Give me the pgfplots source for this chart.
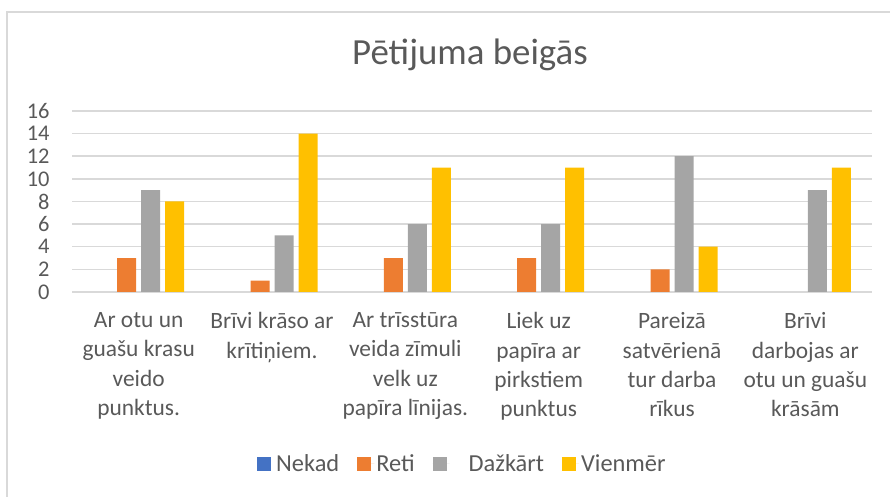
\documentclass[border=0pt]{standalone}
\usepackage{pgfplots}
\pgfplotsset{compat=1.18}
\usepackage{fontspec}
\setmainfont{Carlito}
\definecolor{txt}{HTML}{595959}
\definecolor{gridc}{HTML}{D9D9D9}
\definecolor{cA}{HTML}{4472C4}
\definecolor{cB}{HTML}{ED7D31}
\definecolor{cC}{HTML}{A5A5A5}
\definecolor{cD}{HTML}{FFC000}
\pgfplotsset{sq/.style={legend image code/.code={\path (0bp,0bp) -- (17bp,0bp); \fill[#1] (0bp,-7bp) rectangle (14bp,7bp);}}}
\begin{document}
\begin{tikzpicture}[x=1bp,y=1bp]
\path[use as bounding box] (0,0) rectangle (890,497);
\draw[gridc, line width=1.5bp] (7,0) -- (7,485) -- (890,485);
\node[text=txt, font=\fontsize{37}{44}\selectfont] at (470,442) {Pētijuma beigās};
\begin{axis}[
  at={(72bp,205bp)}, anchor=south west,
  scale only axis, width=800bp, height=181bp,
  xmin=-0.5, xmax=5.5, ymin=0, ymax=16,
  ytick={0,2,...,16}, xtick={0,...,5},
  xticklabels={{Ar otu un\\guašu krasu\\veido\\punktus.},{Brīvi krāso ar\\krītiņiem.},{Ar trīsstūra\\veida zīmuli\\velk uz\\papīra līnijas.},{Liek uz\\papīra ar\\pirkstiem\\punktus},{Pareizā\\satvērienā\\tur darba\\rīkus},{Brīvi\\darbojas ar\\otu un guašu\\krāsām}},
  axis line style={draw=none},
  major tick length=0,
  ymajorgrids, grid style={gridc, line width=1.5bp},
  /pgf/number format/assume math mode=true,
  yticklabel style={font=\fontsize{22.5}{26}\selectfont, text=txt, xshift=-19bp},
  xticklabel style={font=\fontsize{23.5}{29.5}\selectfont, text=txt, align=center, anchor=north, yshift=-17bp},
  ybar=5bp, bar width=19bp,
  unbounded coords=discard,
  legend style={at={(0.488,-0.95)}, anchor=center, draw=none, fill=none, legend columns=4,
    font=\fontsize{24.5}{28}\selectfont, text=txt,
    /tikz/every even column/.append style={column sep=16bp}},
  clip=false,
]
\addplot[fill=none, draw=none, sq=cA] coordinates {(0,0) (1,0) (2,0) (3,0) (4,0) (5,0)};
\addplot[fill=cB, draw=none, sq=cB, y filter/.expression={y==0 ? nan : y}] coordinates {(0,3) (1,1) (2,3) (3,3) (4,2) (5,0)};
\addplot[fill=cC, draw=none, sq=cC] coordinates {(0,9) (1,5) (2,6) (3,6) (4,12) (5,9)};
\addplot[fill=cD, draw=none, sq=cD] coordinates {(0,8) (1,14) (2,11) (3,11) (4,4) (5,11)};
\legend{Nekad,Reti,\hspace*{17bp}Dažkārt,Vienmēr}
\end{axis}
\end{tikzpicture}
\end{document}
